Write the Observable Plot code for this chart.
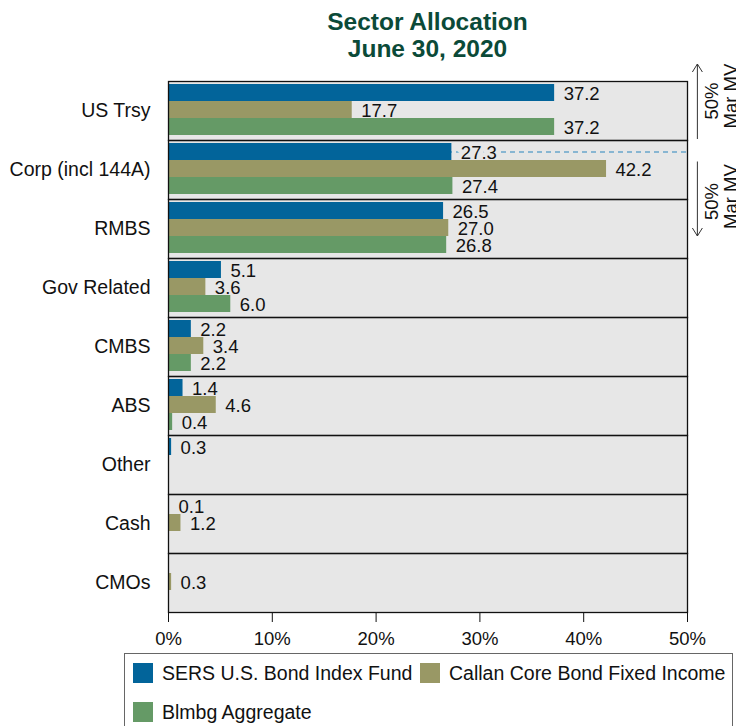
<!DOCTYPE html>
<html>
<head>
<meta charset="utf-8">
<script src="https://cdn.jsdelivr.net/npm/d3@7"></script>
<script src="https://cdn.jsdelivr.net/npm/@observablehq/plot@0.6"></script>
<style>
  html, body { margin: 0; padding: 0; background: #fff; }
  body { width: 736px; height: 726px; position: relative; overflow: hidden;
         font-family: "Liberation Sans", Arial, sans-serif; color: #111; }
  #title { position: absolute; left: 168px; width: 519px; top: 8px; text-align: center;
           font-weight: bold; font-size: 24.5px; line-height: 27px; color: #0b4a38; }
  #chart { position: absolute; left: 0; top: 60px; }
  #legend { position: absolute; left: 124px; top: 653px; width: 609px; height: 90px;
            border: 1px solid #666; box-sizing: border-box; }
  .item { position: absolute; font-size: 19.5px; line-height: 20px; white-space: nowrap; }
  .sw { position: absolute; width: 20px; height: 20px; }
</style>
</head>
<body>
<div id="title">Sector Allocation<br>June 30, 2020</div>
<div id="chart"></div>
<div id="legend"></div>
<script>
const categories = ["US Trsy", "Corp (incl 144A)", "RMBS", "Gov Related", "CMBS", "ABS", "Other", "Cash", "CMOs"];
const seriesNames = ["SERS U.S. Bond Index Fund", "Callan Core Bond Fixed Income", "Blmbg Aggregate"];
const seriesColors = ["#02649a", "#999865", "#659a66"];
const sersValues   = [37.2, 27.3, 26.5, 5.1, 2.2, 1.4, 0.3, 0.1, null];
const callanValues = [17.7, 42.2, 27.0, 3.6, 3.4, 4.6, null, 1.2, 0.3];
const blmbgValues  = [37.2, 27.4, 26.8, 6.0, 2.2, 0.4, null, null, null];
const xTicks = [0, 10, 20, 30, 40, 50];
const splitLine = [{category: "Corp (incl 144A)", series: "SERS U.S. Bond Index Fund", from: 0, to: 50}];

const seriesValues = [sersValues, callanValues, blmbgValues];
const rows = [];
seriesNames.forEach((s, si) => {
  categories.forEach((c, ci) => {
    const v = seriesValues[si][ci];
    if (v != null) rows.push({category: c, series: s, value: v, si});
  });
});

const font = "'Liberation Sans', Arial, sans-serif";
const seriesMarks = [];
seriesNames.forEach((s, si) => {
  const d = rows.filter(r => r.si === si);
  seriesMarks.push(Plot.barX(d, {fy: "category", y: "series", x: "value", fill: seriesColors[si]}));
  seriesMarks.push(Plot.text(d, {
    fy: "category", y: "series", x: "value", text: r => r.value.toFixed(1),
    textAnchor: "start", dx: 9, dy: 1, fontSize: 18.5, fill: "#111",
    stroke: si === 0 ? "#e7e7e7" : null, strokeWidth: si === 0 ? 9 : null
  }));
});

const plot = Plot.plot({
  width: 736, height: 592,
  marginLeft: 168, marginRight: 49, marginTop: 20, marginBottom: 40,
  style: {fontFamily: font, fontSize: "18.5px", color: "#111", background: "transparent", overflow: "visible"},
  x: {domain: [0, 50], ticks: xTicks, tickFormat: d => d + "%", tickSize: 10, tickPadding: 9, label: null},
  y: {domain: seriesNames, axis: null, paddingInner: 0, paddingOuter: 0.235, align: 0.35},
  fy: {domain: categories, axis: null, padding: 0},
  marks: [
    Plot.frame({fill: "#e7e7e7"}),
    Plot.axisFy({anchor: "left", tickSize: 0, tickPadding: 18, label: null, fontSize: 19.5}),
    Plot.ruleY(splitLine, {fy: "category", y: "series", x1: "from", x2: "to",
      stroke: "#6aa7cc", strokeWidth: 1.5, strokeDasharray: "5,4"}),
    ...seriesMarks,
    Plot.frame({stroke: "#111", strokeWidth: 1.3})
  ]
});
document.getElementById("chart").appendChild(plot);

// Right-side "50% Mar MV" annotations
const xs = plot.scale("x"), fys = plot.scale("fy"), ys = plot.scale("y");
const svg = d3.select(plot);
const ax = xs.apply(51);
const top0 = fys.apply(categories[0]);
const splitY = fys.apply(categories[1]) + ys.apply(seriesNames[0]) - ys.range[0] + ys.bandwidth / 2;
const arrows = [
  {y1: top0 - 17, y2: fys.apply(categories[1]) - 1, head: "top", ty: top0 + 20},
  {y1: splitY + 10, y2: fys.apply(categories[2]) + 37, head: "bottom", ty: splitY + 50}
];
const g = svg.append("g").attr("stroke", "#333").attr("stroke-width", 1).attr("fill", "none");
arrows.forEach(a => {
  g.append("line").attr("x1", ax).attr("x2", ax).attr("y1", a.y1).attr("y2", a.y2);
  const tip = a.head === "top" ? a.y1 : a.y2;
  const dir = a.head === "top" ? 1 : -1;
  g.append("path").attr("d", `M${ax - 5},${tip + dir * 8}L${ax},${tip}L${ax + 5},${tip + dir * 8}`);
  const t = svg.append("g").attr("font-family", font).attr("font-size", 18.5).attr("fill", "#111").attr("text-anchor", "middle");
  t.append("text").attr("transform", `translate(${ax + 14},${a.ty}) rotate(-90)`).attr("dy", "0.35em").text("50%");
  t.append("text").attr("transform", `translate(${ax + 33},${a.ty - 5}) rotate(-90)`).attr("dy", "0.35em").text("Mar MV");
});

// Legend
const legend = document.getElementById("legend");
const legendPos = [{x: 8, y: 9}, {x: 295, y: 9}, {x: 8, y: 48}];
seriesNames.forEach((s, i) => {
  const sw = document.createElement("div");
  sw.className = "sw";
  sw.style.left = legendPos[i].x + "px";
  sw.style.top = legendPos[i].y + "px";
  sw.style.background = seriesColors[i];
  legend.appendChild(sw);
  const it = document.createElement("div");
  it.className = "item";
  it.style.left = (legendPos[i].x + 29) + "px";
  it.style.top = legendPos[i].y + "px";
  it.textContent = s;
  legend.appendChild(it);
});
</script>
</body>
</html>
